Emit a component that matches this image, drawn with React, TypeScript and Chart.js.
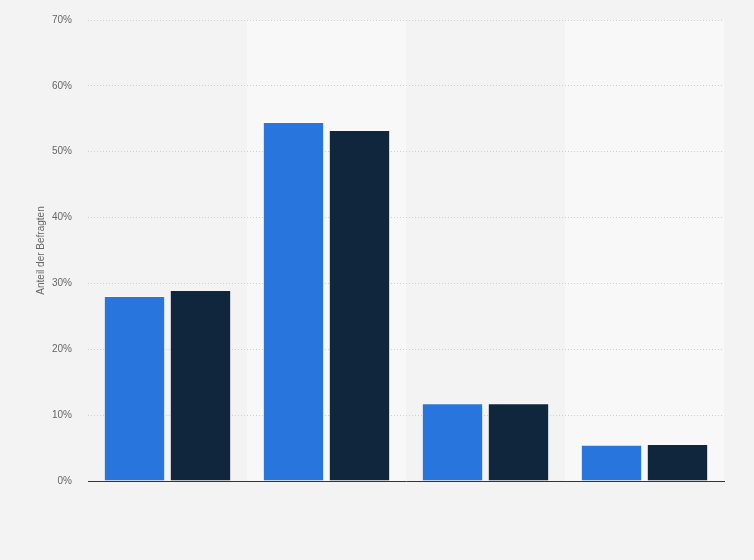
import { useEffect, useRef } from "react"
import { Chart, registerables } from "chart.js"

Chart.register(...registerables)

const categories = ["A", "B", "C", "D"]
const serieBlau = [28.1, 54.5, 11.8, 5.5]
const serieDunkel = [29.0, 53.3, 11.8, 5.6]
const yTicks = [0, 10, 20, 30, 40, 50, 60, 70]

// abwechselnde helle Spalten hinter den Balken
const bandPlugin = {
  id: "bands",
  beforeDraw(chart: Chart) {
    const { ctx, chartArea, scales } = chart
    const x = scales.x
    const half = (chartArea.right - chartArea.left) / categories.length / 2
    ctx.save()
    ctx.fillStyle = "#f8f8f8"
    categories.forEach((_, i) => {
      if (i % 2 === 1) {
        const c = x.getPixelForValue(i)
        ctx.fillRect(c - half, chartArea.top, half * 2, chartArea.bottom - chartArea.top)
      }
    })
    ctx.restore()
  },
}

export default function App() {
  const chartRef = useRef<HTMLCanvasElement | null>(null)
  const chartInstance = useRef<Chart | null>(null)

  useEffect(() => {
    document.body.style.margin = "0"
    document.body.style.background = "#f3f3f3"
    if (!chartRef.current) return
    if (chartInstance.current) chartInstance.current.destroy()
    const ctx = chartRef.current.getContext("2d")
    if (!ctx) return

    chartInstance.current = new Chart(ctx, {
      type: "bar",
      data: {
        labels: categories,
        datasets: [
          {
            label: "Blau",
            data: serieBlau,
            backgroundColor: "#2876dd",
            borderColor: "rgba(255,255,255,0.4)",
            borderWidth: 1,
            categoryPercentage: 0.83,
            barPercentage: 0.93,
          },
          {
            label: "Dunkel",
            data: serieDunkel,
            backgroundColor: "#10263c",
            borderColor: "rgba(255,255,255,0.3)",
            borderWidth: 1,
            categoryPercentage: 0.83,
            barPercentage: 0.93,
          },
        ],
      },
      options: {
        responsive: false,
        animation: false,
        layout: { padding: { top: 20, right: 30, bottom: 79, left: 0 } },
        plugins: { legend: { display: false }, tooltip: { enabled: false } },
        scales: {
          x: {
            ticks: { display: false },
            grid: { display: false, drawTicks: false },
            border: { display: true, color: "#333333", width: 1 },
          },
          y: {
            min: 0,
            max: 70,
            afterBuildTicks: (scale) => {
              scale.ticks = yTicks.map((v) => ({ value: v }))
            },
            afterFit: (scale) => {
              scale.width = 88
              scale.paddingTop = 0
            },
            ticks: {
              padding: 16,
              color: "#666666",
              font: { family: "Liberation Sans, Arial", size: 10 },
              callback: (v) => v + "%",
            },
            grid: {
              drawTicks: false,
              color: (c) => (c.tick.value === 0 ? "rgba(0,0,0,0)" : "#cfcfcf"),
            },
            border: { display: false, dash: [1, 2] },
            title: {
              display: true,
              text: "Anteil der Befragten",
              color: "#666666",
              font: { family: "Liberation Sans, Arial", size: 10 },
              padding: { top: 35, bottom: 0 },
            },
          },
        },
      },
      plugins: [bandPlugin],
    })

    return () => {
      if (chartInstance.current) chartInstance.current.destroy()
    }
  }, [])

  return (
    <div style={{ width: 754, height: 560, background: "#f3f3f3" }}>
      <canvas ref={chartRef} width={754} height={560} />
    </div>
  )
}
